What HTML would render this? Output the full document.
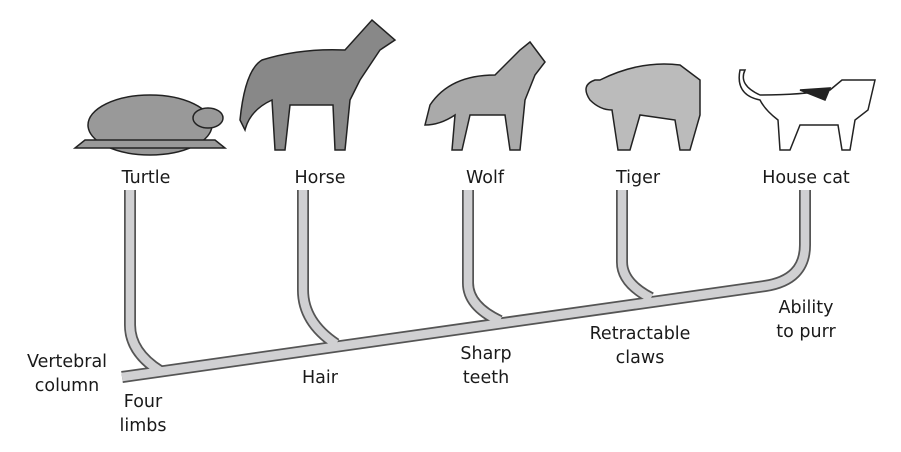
<!DOCTYPE html>
<html><head><style>
body{margin:0;background:#fff;width:901px;height:447px;overflow:hidden}
svg text{font-family:"DejaVu Sans","Liberation Sans",sans-serif;font-size:17.5px;fill:#1a1a1a}
</style></head><body>
<svg width="901" height="447" viewBox="0 0 901 447">
<g fill="none" stroke-linejoin="round">
<g stroke="#555" stroke-width="12">
<path d="M122,377 L765,286 Q805,280 805,245 L805,190"/>
<path d="M130,190 L130,325 Q130,352 160,371"/>
<path d="M303,190 L303,290 Q303,322 336,344"/>
<path d="M468,190 L468,283 Q468,306 500,321"/>
<path d="M622,190 L622,262 Q622,283 651,298"/>
</g>
<g stroke="#d0d0d2" stroke-width="8.5">
<path d="M122,377 L765,286 Q805,280 805,245 L805,190"/>
<path d="M130,190 L130,325 Q130,352 160,371"/>
<path d="M303,190 L303,290 Q303,322 336,344"/>
<path d="M468,190 L468,283 Q468,306 500,321"/>
<path d="M622,190 L622,262 Q622,283 651,298"/>
</g>
</g>
<!-- turtle -->
<g fill="#999" stroke="#222" stroke-width="1.5">
<ellipse cx="150" cy="125" rx="62" ry="30"/>
<ellipse cx="208" cy="118" rx="15" ry="10"/>
<path d="M75,148 L225,148 L215,140 L85,140 Z"/>
</g>
<!-- horse -->
<g fill="#888" stroke="#222" stroke-width="1.5">
<path d="M262,60 Q300,48 345,50 L372,20 L395,40 L380,50 L360,80 L350,100 L345,150 L335,150 L333,105 L290,105 L285,150 L275,150 L272,100 Q250,110 245,130 L240,120 Q245,70 262,60Z"/>
</g>
<!-- wolf -->
<g fill="#aaa" stroke="#222" stroke-width="1.5">
<path d="M430,105 Q450,75 495,75 L520,50 L530,42 L545,62 L535,75 L525,100 L520,150 L510,150 L505,115 L470,115 L462,150 L452,150 L455,115 Q440,125 425,125Z"/>
</g>
<!-- tiger -->
<g fill="#bbb" stroke="#222" stroke-width="1.5">
<path d="M600,80 Q640,60 680,65 L700,80 L700,115 L690,150 L680,150 L675,120 L640,115 L630,150 L618,150 L612,110 Q600,110 590,100 Q580,85 595,80Z"/>
</g>
<!-- cat -->
<g fill="#fff" stroke="#222" stroke-width="1.5">
<path d="M745,70 Q738,85 760,95 Q800,95 830,90 L842,80 L875,80 L868,110 L855,120 L850,150 L842,150 L838,125 L800,125 L790,150 L780,150 L778,120 Q765,110 760,100 Q735,95 740,70Z"/>
<path d="M800,90 L830,88 L825,100 Z" fill="#222"/>
</g>
<text x="146" y="183" text-anchor="middle">Turtle</text>
<text x="320" y="183" text-anchor="middle">Horse</text>
<text x="485" y="183" text-anchor="middle">Wolf</text>
<text x="638" y="183" text-anchor="middle">Tiger</text>
<text x="806" y="183" text-anchor="middle">House cat</text>
<text x="67" y="367" text-anchor="middle">Vertebral</text>
<text x="67" y="391" text-anchor="middle">column</text>
<text x="143" y="407" text-anchor="middle">Four</text>
<text x="143" y="431" text-anchor="middle">limbs</text>
<text x="320" y="383" text-anchor="middle">Hair</text>
<text x="486" y="359" text-anchor="middle">Sharp</text>
<text x="486" y="383" text-anchor="middle">teeth</text>
<text x="640" y="339" text-anchor="middle">Retractable</text>
<text x="640" y="363" text-anchor="middle">claws</text>
<text x="806" y="313" text-anchor="middle">Ability</text>
<text x="806" y="337" text-anchor="middle">to purr</text>
</svg>
</body></html>
